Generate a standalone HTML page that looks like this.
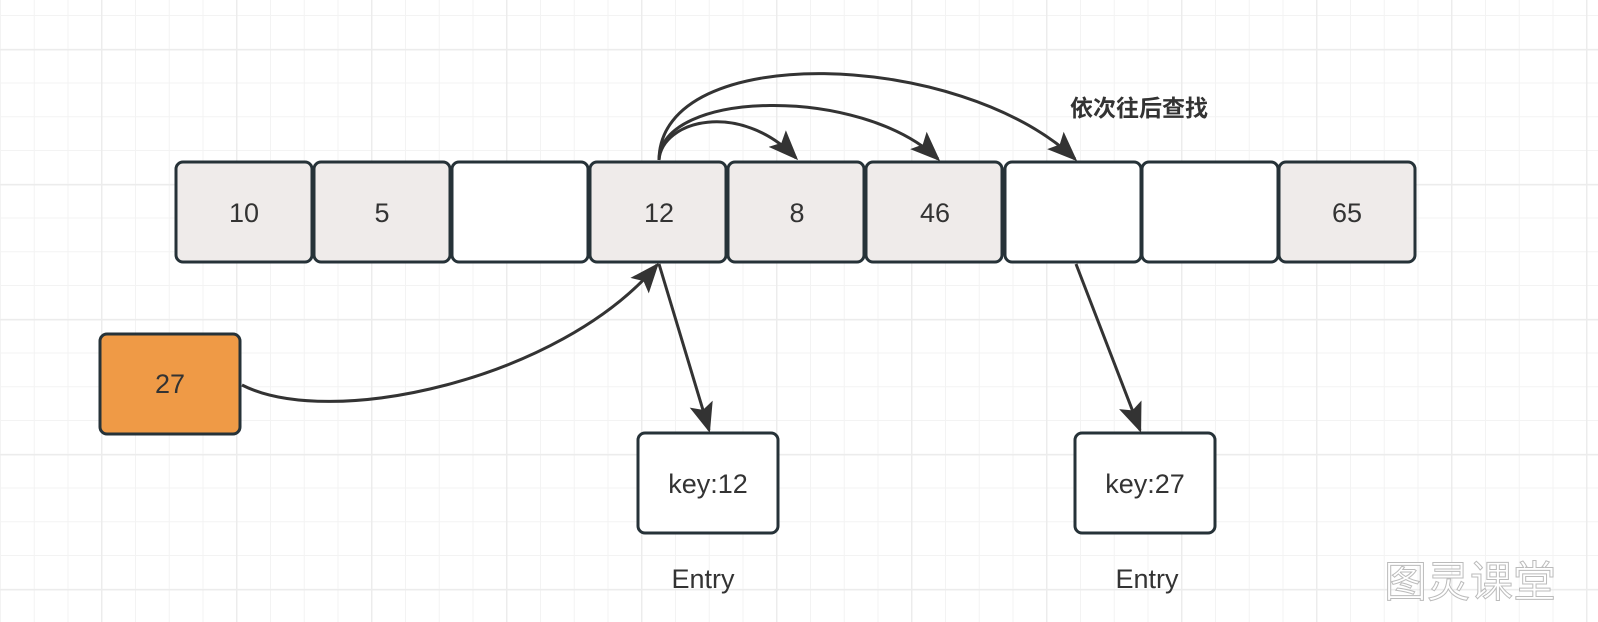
<!DOCTYPE html>
<html><head><meta charset="utf-8"><style>
body{margin:0;width:1598px;height:622px;overflow:hidden;background:#fff;
background-image:
linear-gradient(#ececec 1.5px,transparent 1.5px),
linear-gradient(90deg,#ececec 1.5px,transparent 1.5px),
linear-gradient(#f3f3f3 1px,transparent 1px),
linear-gradient(90deg,#f3f3f3 1px,transparent 1px);
background-size:135px 135px,135px 135px,33.75px 33.75px,33.75px 33.75px;
background-position:0 49px,101px 0,0 15px,0 0;
font-family:"Liberation Sans","Noto Sans CJK SC",sans-serif;}
</style></head><body>
<svg width="1598" height="622" style="position:absolute;left:0;top:0">
<defs>
<marker id="b" viewBox="0 0 10 10" refX="9" refY="5" markerWidth="30" markerHeight="30" orient="auto" markerUnits="userSpaceOnUse"><path d="M0,1 L10,5 L0,9 L2,5 z" fill="#333"/></marker></defs>
<g stroke="#263238" stroke-width="3" fill="#efebea">
<rect x="176" y="162" width="136" height="100" rx="7"/>
<rect x="314" y="162" width="136" height="100" rx="7"/>
<rect x="452" y="162" width="136" height="100" rx="7" fill="#fff"/>
<rect x="590" y="162" width="136" height="100" rx="7"/>
<rect x="728" y="162" width="136" height="100" rx="7"/>
<rect x="866" y="162" width="136" height="100" rx="7"/>
<rect x="1005" y="162" width="136" height="100" rx="7" fill="#fff"/>
<rect x="1142" y="162" width="136" height="100" rx="7" fill="#fff"/>
<rect x="1279" y="162" width="136" height="100" rx="7"/>
<rect x="100" y="334" width="140" height="100" rx="7" fill="#ef9a46"/>
<rect x="638" y="433" width="140" height="100" rx="7" fill="#fff"/>
<rect x="1075" y="433" width="140" height="100" rx="7" fill="#fff"/>
</g>
<g font-size="27" fill="#333" text-anchor="middle">
<text x="244" y="222">10</text><text x="382" y="222">5</text><text x="659" y="222">12</text>
<text x="797" y="222">8</text><text x="935" y="222">46</text><text x="1347" y="222">65</text>
<text x="170" y="393">27</text><text x="708" y="493">key:12</text><text x="1145" y="493">key:27</text>
<text x="703" y="588">Entry</text><text x="1147" y="588">Entry</text>
</g>
<text x="1070" y="116" font-size="23" font-weight="bold" fill="#333">依次往后查找</text>
<text x="1384" y="597" font-size="43" fill="#fff" stroke="#bbb" stroke-width="1">图灵课堂</text>
<g stroke="#333" stroke-width="3" fill="none" marker-end="url(#b)">
<path d="M659,160 C662,120 740,100 796,158"/>
<path d="M659,160 C660,90 860,85 938,159"/>
<path d="M659,160 C660,40 960,50 1075,159"/>
<path d="M242,385 C330,430 560,380 657,265"/>
<path d="M659,264 L709,430"/>
<path d="M1076,264 L1140,430"/>
</g>
</svg>
</body></html>
